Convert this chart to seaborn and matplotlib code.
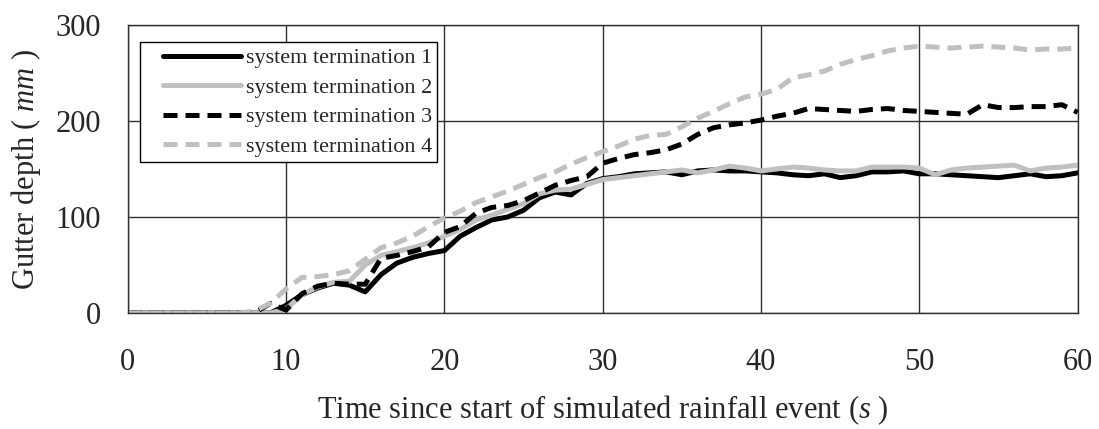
import pandas as pd
import seaborn as sns
import matplotlib.pyplot as plt
from matplotlib.legend_handler import HandlerLine2D

# Gutter depth (mm) vs. time (s) for four system terminations
time_s = list(range(0, 61))

term1 = [0, 0, 0, 0, 0, 0, 0, 0, 0, 0,
         8, 19, 26, 31, 29, 22, 40, 52, 58, 62,
         65, 80, 89, 97, 100, 107, 120, 126, 123, 135,
         140, 142, 145, 146, 147, 144, 148, 149, 148, 148,
         147, 146, 144, 143, 145, 141, 143, 147, 147, 148,
         145, 145, 144, 143, 142, 141, 143, 145, 142, 143, 146]
term2 = [0, 0, 0, 0, 0, 0, 0, 0, 0, 0,
         4, 19, 27, 32, 33, 50, 60, 64, 68, 73,
         80, 87, 97, 102, 108, 114, 124, 128, 129, 134,
         139, 141, 143, 145, 147, 149, 146, 149, 153, 151,
         148, 150, 152, 151, 149, 148, 148, 152, 152, 152,
         151, 144, 149, 151, 152, 153, 154, 148, 151, 152, 154]
term3 = [0, 0, 0, 0, 0, 0, 0, 0, 0, 10,
         3, 20, 28, 31, 30, 30, 57, 60, 64, 69,
         84, 90, 104, 110, 112, 117, 125, 133, 138, 142,
         156, 161, 165, 167, 170, 176, 186, 193, 196, 198,
         201, 205, 208, 213, 212, 211, 210, 212, 213, 211,
         210, 209, 208, 207, 217, 214, 214, 215, 215, 217, 209]
term4 = [0, 0, 0, 0, 0, 0, 0, 0, 2, 10,
         25, 37, 38, 40, 44, 56, 68, 73, 80, 90,
         99, 106, 115, 121, 127, 134, 141, 147, 155, 162,
         168, 174, 181, 185, 186, 194, 203, 210, 218, 225,
         228, 233, 245, 248, 252, 259, 264, 268, 273, 276,
         278, 277, 276, 277, 278, 277, 276, 274, 275, 275, 276]

labels = ["system termination 1", "system termination 2",
          "system termination 3", "system termination 4"]
series = [term1, term2, term3, term4]

sns.set_style("white")
plt.rcParams["font.family"] = ["Liberation Serif", "DejaVu Serif"]
plt.rcParams["mathtext.fontset"] = "custom"
plt.rcParams["mathtext.it"] = "Liberation Serif:italic"
plt.rcParams["mathtext.rm"] = "Liberation Serif"

fig = plt.figure(figsize=(10.99, 4.29), dpi=100)
ax = fig.add_axes([0.1162, 0.2704, 0.8644, 0.6713])

styles = [
    dict(color="black", linestyle="-"),
    dict(color="#c0c0c0", linestyle="-"),
    dict(color="black", linestyle=(0, (2.8, 1.6))),
    dict(color="#c0c0c0", linestyle=(0, (2.8, 1.6))),
]

for vals, lab, st in zip(series, labels, styles):
    df = pd.DataFrame({"t": time_s, "depth": vals})
    sns.lineplot(data=df, x="t", y="depth", ax=ax, label=lab,
                 linewidth=3.6, **st)

ax.set_xlim(0, 60)
ax.set_ylim(0, 300)
ax.set_xticks(range(0, 61, 10))
ax.set_yticks([0, 100, 200, 300])
ax.grid(True, color="#303030", linewidth=1)
for sp in ax.spines.values():
    sp.set_color("#303030")
    sp.set_linewidth(1)
ax.tick_params(axis="both", direction="out", length=7, width=1,
               color="#303030", labelsize=22)
ax.tick_params(axis="x", pad=18)
ax.tick_params(axis="y", pad=12)

ax.set_xlabel("Time since start of simulated rainfall event ($s$ )",
              fontsize=22, labelpad=12)
ax.set_ylabel("Gutter depth ( $mm$ )", fontsize=22, labelpad=9)

leg = ax.legend(loc="upper left", bbox_to_anchor=(0.013, 0.94),
                borderaxespad=0, fontsize=16, frameon=True, fancybox=False,
                handlelength=4.3, handletextpad=0.2, labelspacing=0.4,
                borderpad=0.25,
                handler_map={plt.Line2D: HandlerLine2D(xpad=0.77)})
leg.get_frame().set_edgecolor("black")
leg.get_frame().set_linewidth(1)
leg.get_frame().set_alpha(1)

fig.savefig("out.png", dpi=100)
